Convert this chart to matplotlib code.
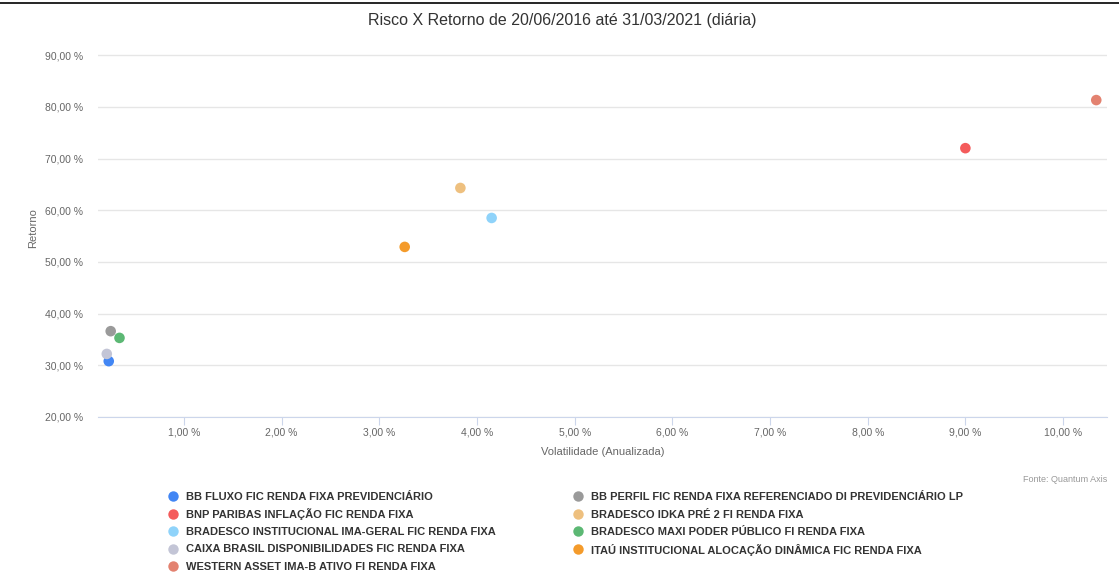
import matplotlib.pyplot as plt
from matplotlib.lines import Line2D
from matplotlib.ticker import FuncFormatter

plt.rcParams['font.family'] = ['Liberation Sans', 'DejaVu Sans']

# Fund names (alphabetical, as in the source legend)
funds = [
    "BB FLUXO FIC RENDA FIXA PREVIDENCIÁRIO",
    "BB PERFIL FIC RENDA FIXA REFERENCIADO DI PREVIDENCIÁRIO LP",
    "BNP PARIBAS INFLAÇÃO FIC RENDA FIXA",
    "BRADESCO IDKA PRÉ 2 FI RENDA FIXA",
    "BRADESCO INSTITUCIONAL IMA-GERAL FIC RENDA FIXA",
    "BRADESCO MAXI PODER PÚBLICO FI RENDA FIXA",
    "CAIXA BRASIL DISPONIBILIDADES FIC RENDA FIXA",
    "ITAÚ INSTITUCIONAL ALOCAÇÃO DINÂMICA FIC RENDA FIXA",
    "WESTERN ASSET IMA-B ATIVO FI RENDA FIXA",
]
# annualized volatility (%) and return (%)
volatility = [0.23, 0.25, 9.00, 3.83, 4.15, 0.34, 0.21, 3.26, 10.34]
retorno = [30.8, 36.6, 72.0, 64.3, 58.5, 35.3, 32.2, 52.9, 81.3]
colors = ["#4286f4", "#9a9a9a", "#f45b5b", "#eec07f", "#8fd3fa",
          "#5cb874", "#c3c5d6", "#f49b2b", "#e38270"]

y_ticks = [20, 30, 40, 50, 60, 70, 80, 90]
x_ticks = [1, 2, 3, 4, 5, 6, 7, 8, 9, 10]

fig = plt.figure(figsize=(11.19, 5.73), dpi=100)
ax = fig.add_axes([98 / 1119, 1 - 417 / 573, (1107 - 98) / 1119, (417 - 40) / 573])

for v, r, c in zip(volatility, retorno, colors):
    ax.scatter(v, r, s=58, color=c, edgecolors='none', zorder=3)

ax.set_xlim(0.12, 10.45)
ax.set_ylim(20, 20 + (417 - 40) / 51.7 * 10)

pct = FuncFormatter(lambda v, p: f"{v:.2f}".replace('.', ',') + " %")
ax.set_yticks(y_ticks)
ax.set_xticks(x_ticks)
ax.yaxis.set_major_formatter(pct)
ax.xaxis.set_major_formatter(pct)

ax.grid(axis='y', color='#e6e6e6', linewidth=1)
ax.set_axisbelow(True)
for s in ['top', 'right', 'left']:
    ax.spines[s].set_visible(False)
ax.spines['bottom'].set_color('#ccd6eb')
ax.tick_params(axis='y', length=0, labelsize=7.5, labelcolor='#666666', pad=10.5)
ax.tick_params(axis='x', length=6, color='#ccd6eb', labelsize=7.5,
               labelcolor='#666666', pad=1.5)

ax.set_xlabel("Volatilidade (Anualizada)", fontsize=8, color='#666666', labelpad=7)
ax.set_ylabel("Retorno", fontsize=8, color='#666666', labelpad=5)

fig.text(562 / 1119, 1 - 20 / 573, "Risco X Retorno de 20/06/2016 até 31/03/2021 (diária)",
         ha='center', va='center', fontsize=11.5, color='#333333')
fig.text(1107 / 1119, 1 - 479 / 573, "Fonte: Quantum Axis", ha='right', va='center',
         fontsize=6.5, color='#999999')

# legend drawn row by row, two columns
for i, (name, c) in enumerate(zip(funds, colors)):
    row, col = i // 2, i % 2
    x0 = (173 if col == 0 else 578) / 1119
    y0 = 1 - (496 + row * 17.5) / 573
    fig.add_artist(Line2D([x0], [y0], marker='o', markersize=7.5, color=c,
                          markeredgewidth=0, transform=fig.transFigure))
    fig.text(x0 + 13 / 1119, y0, name, ha='left', va='center_baseline', fontsize=8,
             fontweight='bold', color='#333333')

# black rule at the top of the page crop
fig.add_artist(Line2D([0, 1], [1 - 3 / 573, 1 - 3 / 573], color='black',
                      linewidth=1.2, transform=fig.transFigure))

fig.savefig("out.png", dpi=100)
